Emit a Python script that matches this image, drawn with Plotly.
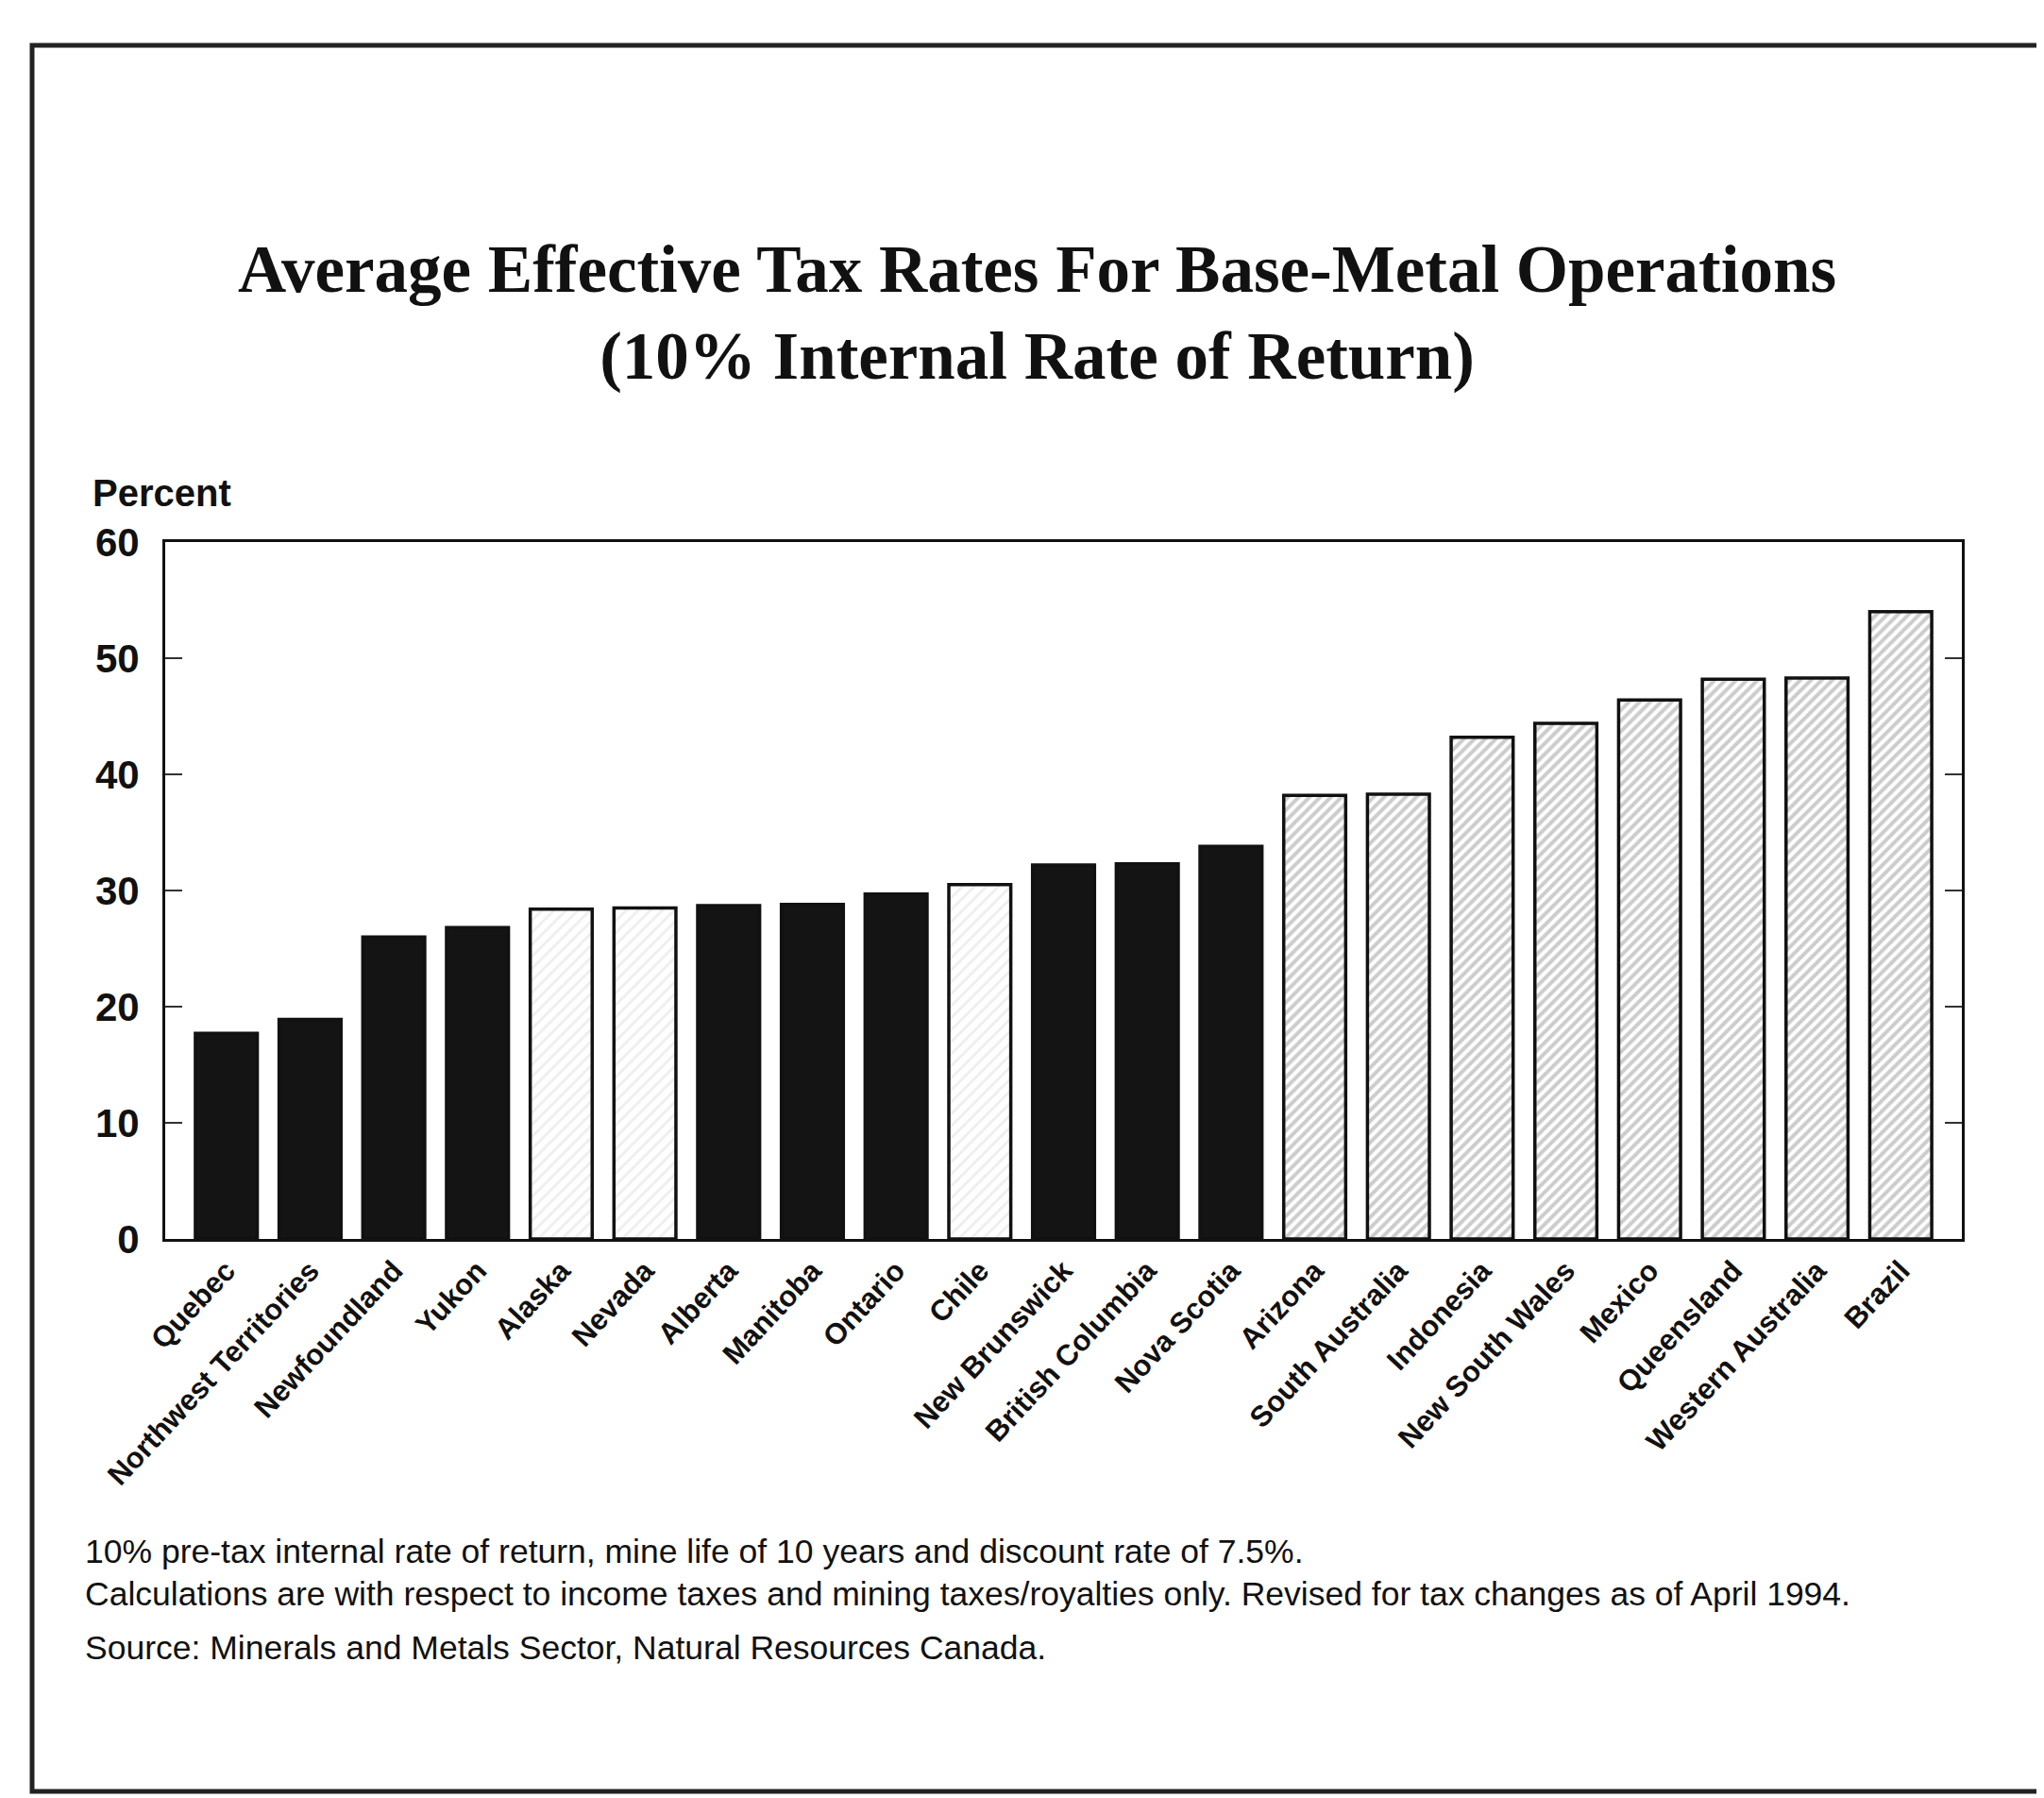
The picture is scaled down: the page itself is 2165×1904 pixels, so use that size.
import plotly.graph_objects as go

# ---- data ----
regions = ["Quebec", "Northwest Territories", "Newfoundland", "Yukon", "Alaska", "Nevada",
           "Alberta", "Manitoba", "Ontario", "Chile", "New Brunswick", "British Columbia",
           "Nova Scotia", "Arizona", "South Australia", "Indonesia", "New South Wales",
           "Mexico", "Queensland", "Western Australia", "Brazil"]
rates = [17.7, 18.9, 26.0, 26.8, 28.4, 28.5, 28.7, 28.8, 29.7, 30.5, 32.2, 32.3,
         33.8, 38.2, 38.3, 43.2, 44.4, 46.4, 48.2, 48.3, 54.0]
# group: "canada" = solid black, "light" = light hatch, "hatch" = dense hatch
groups = ["canada", "canada", "canada", "canada", "light", "light",
          "canada", "canada", "canada", "light", "canada", "canada",
          "canada", "hatch", "hatch", "hatch", "hatch",
          "hatch", "hatch", "hatch", "hatch"]
y_ticks = [0, 10, 20, 30, 40, 50, 60]

title_lines = ["Average Effective Tax Rates For Base-Metal Operations",
               "(10% Internal Rate of Return)"]
notes = ["10% pre-tax internal rate of return, mine life of 10 years and discount rate of 7.5%.",
         "Calculations are with respect to income taxes and mining taxes/royalties only. Revised for tax changes as of April 1994.",
         "Source: Minerals and Metals Sector, Natural Resources Canada."]

# ---- styles ----
style = {
    "canada": dict(color="#141414", shape="", fg="#141414", bg="#141414", sol=0.3, size=10),
    "light": dict(color="#eeeeee", shape="/", fg="#7a7a7a", bg="#efefef", sol=0.32, size=9),
    "hatch": dict(color="#cccccc", shape="/", fg="#252525", bg="#cfcfcf", sol=0.5, size=8),
}
colors = [style[g]["color"] for g in groups]
shapes_p = [style[g]["shape"] for g in groups]
fgs = [style[g]["fg"] for g in groups]
bgs = [style[g]["bg"] for g in groups]
sols = [style[g]["sol"] for g in groups]
sizes = [style[g]["size"] for g in groups]

W, H = 2165, 1904
L, R, T, B = 167, 95, 566, 600
pw, ph = W - L - R, H - T - B

fig = go.Figure()
fig.add_trace(go.Bar(
    x=list(range(len(regions))), y=rates,
    width=0.74,
    marker=dict(color=colors,
                line=dict(color="#111111", width=3.5),
                pattern=dict(shape=shapes_p, fgcolor=fgs, bgcolor=bgs,
                             solidity=sols, size=sizes, fillmode="replace")),
    showlegend=False,
))

sans = "Liberation Sans, Arial, sans-serif"
fig.update_xaxes(
    range=[-0.73, len(regions) - 1 + 0.73],
    tickmode="array", tickvals=list(range(len(regions))), ticktext=regions,
    tickangle=-47, ticks="",
    tickfont=dict(family=sans, size=31, color="#111111", weight="bold"),
    showline=True, linecolor="#111111", linewidth=3, mirror=True,
    showgrid=False, zeroline=False,
)
fig.update_yaxes(
    range=[0, 60], tickmode="array", tickvals=y_ticks,
    ticks="inside", ticklen=18, tickwidth=2, tickcolor="#333333",
    ticklabelstandoff=16,
    tickfont=dict(family=sans, size=42, color="#111111", weight="bold"),
    showline=True, linecolor="#111111", linewidth=3, mirror="ticks",
    showgrid=False, zeroline=False,
)


def px_x(x):
    return (x - L) / pw


def px_y(y):
    return (H - y - B) / ph


ann = []
ann.append(dict(text="<br>".join(title_lines), xref="paper", yref="paper",
                x=px_x(1090), y=px_y(236), showarrow=False, xanchor="center", yanchor="top",
                align="center",
                font=dict(family="Liberation Serif, Times New Roman, serif", size=71,
                          color="#111111", weight="bold")))
ann.append(dict(text="Percent", xref="paper", yref="paper", x=px_x(88), y=px_y(514),
                showarrow=False, xanchor="left", yanchor="middle",
                font=dict(family=sans, size=40, color="#111111", weight="bold")))
for t, yy in zip(notes, [1635, 1680, 1737]):
    ann.append(dict(text=t, xref="paper", yref="paper", x=px_x(80), y=px_y(yy),
                    showarrow=False, xanchor="left", yanchor="middle",
                    font=dict(family=sans, size=35.5, color="#111111")))
fig.update_layout(annotations=ann)

# outer border
fig.add_shape(type="rect", xref="paper", yref="paper",
              x0=px_x(26), x1=px_x(2160),
              y0=px_y(1889), y1=px_y(40),
              line=dict(color="#222222", width=5))

fig.update_layout(
    width=W, height=H,
    margin=dict(l=L, r=R, t=T, b=B),
    paper_bgcolor="white", plot_bgcolor="white",
)
fig.write_html("out.html")
